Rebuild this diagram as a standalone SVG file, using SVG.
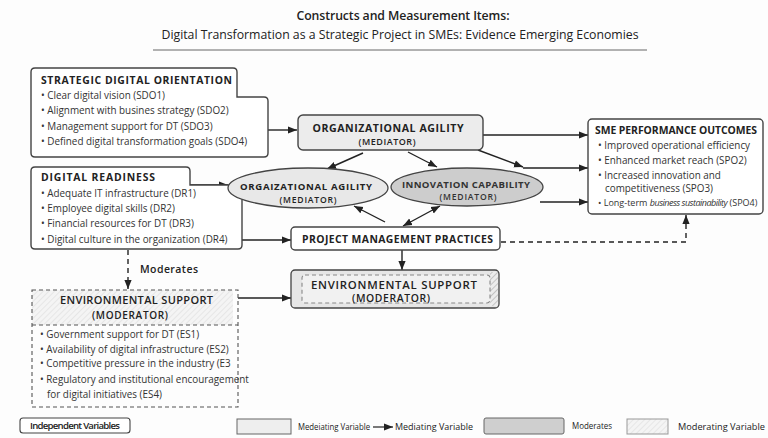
<svg xmlns="http://www.w3.org/2000/svg" width="768" height="438" viewBox="0 0 768 438">
  <defs>
    <marker id="ah" viewBox="0 0 10 10" refX="10" refY="5" markerWidth="9" markerHeight="9" markerUnits="userSpaceOnUse" orient="auto-start-reverse">
      <path d="M0,1 L10,5 L0,9 Z" fill="#222"/>
    </marker>
    <pattern id="hatch" width="4" height="4" patternUnits="userSpaceOnUse" patternTransform="rotate(45)">
      <rect width="4" height="4" fill="#ececec"/>
      <line x1="0" y1="0" x2="0" y2="4" stroke="#9a9a9a" stroke-width="1"/>
    </pattern>
    <pattern id="hatchLight" width="4" height="4" patternUnits="userSpaceOnUse" patternTransform="rotate(45)">
      <rect width="4" height="4" fill="#f4f4f4"/>
      <line x1="0" y1="0" x2="0" y2="4" stroke="#d8d8d8" stroke-width="1"/>
    </pattern>
  </defs>
  <style>
    text { font-family: "Open Sans", "Noto Sans", "Liberation Sans", sans-serif; fill: #222; }
    .title { font-size: 12.3px; font-weight: 600; }
    .sub { font-size: 12.3px; }
    .hd { font-size: 10.4px; font-weight: 700; }
    .it { font-size: 9.9px; fill: #333; }
    .nm { font-size: 10.6px; font-weight: 700; }
    .md { font-size: 9px; font-weight: 600; }
    .lg { font-size: 9.6px; }
    .box { fill: #fff; stroke: #444; stroke-width: 1.4; }
    .gray { fill: #ececec; stroke: #444; stroke-width: 1.4; }
    .dash { fill: none; stroke: #555; stroke-width: 1.1; stroke-dasharray: 4 3; }
    .wire { fill: none; stroke: #222; stroke-width: 1.4; }
    .wired { fill: none; stroke: #222; stroke-width: 1.4; stroke-dasharray: 5 4; }
  </style>

  <rect width="768" height="438" fill="#fdfdfd"/>

  <!-- heading -->
  <g id="heading">
    <text class="title" x="403" y="19.5" text-anchor="middle" textLength="213">Constructs and Measurement Items:</text>
    <text class="sub" x="400" y="38.5" text-anchor="middle" textLength="477">Digital Transformation as a Strategic Project in SMEs: Evidence  Emerging Economies</text>
    <line x1="153" y1="50" x2="647" y2="50" stroke="#666" stroke-width="1"/>
  </g>

  <!-- connectors -->
  <g id="connectors">
    <path class="wire" d="M268,130 H297" marker-end="url(#ah)"/>
    <path class="wire" d="M190,185 H228" marker-end="url(#ah)"/>
    <path class="wire" d="M242,240 H291" marker-end="url(#ah)"/>
    <path class="wired" d="M128,250 V289" marker-end="url(#ah)"/>
    <path class="wire" d="M238,298 H291" marker-end="url(#ah)"/>
    <path class="wire" d="M363,153 L327,169" marker-end="url(#ah)"/>
    <path class="wire" d="M408,152 L437,167" marker-end="url(#ah)"/>
    <path class="wire" d="M483,135 H588" marker-end="url(#ah)"/>
    <path class="wire" d="M478,150 L523,167" marker-end="url(#ah)"/>
    <path class="wire" d="M523,168 H588" marker-end="url(#ah)"/>
    <path class="wire" d="M540,202 H588" marker-end="url(#ah)"/>
    <path class="wire" d="M385,222 L354,206" marker-end="url(#ah)"/>
    <path class="wire" d="M403,226 L440,206" marker-start="url(#ah)" marker-end="url(#ah)"/>
    <path class="wire" d="M402,250 V270" marker-end="url(#ah)"/>
    <path class="wired" d="M501,242 H686 V215" marker-end="url(#ah)"/>
  </g>

  <!-- strategic digital orientation -->
  <g id="sdo">
    <path class="box" d="M35,68 H233 Q237,68 237,72 V97 H264 Q268,97 268,101 V153 Q268,157 264,157 H35 Q31,157 31,153 V72 Q31,68 35,68 Z"/>
    <text class="hd" x="41" y="84" textLength="191">STRATEGIC DIGITAL ORIENTATION</text>
    <text class="it" x="41" y="98.5">•  Clear digital vision  (SDO1)</text>
    <text class="it" x="41" y="114">•  Alignment with busines strategy  (SDO2)</text>
    <text class="it" x="41" y="129.5">•  Management support for DT (SDO3)</text>
    <text class="it" x="41" y="145">•  Defined digital transformation goals (SDO4)</text>
  </g>

  <!-- digital readiness -->
  <g id="dr">
    <path class="box" d="M35,167 H186 Q190,167 190,171 V185 H238 Q242,185 242,189 V245 Q242,249 238,249 H35 Q31,249 31,245 V171 Q31,167 35,167 Z"/>
    <text class="hd" x="41" y="181" textLength="114">DIGITAL READINESS</text>
    <text class="it" x="41" y="196.5">•  Adequate IT infrastructure (DR1)</text>
    <text class="it" x="41" y="212">•  Employee digital skills (DR2)</text>
    <text class="it" x="41" y="227">•  Financial resources for DT (DR3)</text>
    <text class="it" x="41" y="242.5">•  Digital culture in the organization (DR4)</text>
  </g>

  <!-- organizational agility (box) -->
  <g id="oa-box">
    <rect class="gray" x="298" y="115" width="185" height="35" rx="5"/>
    <text class="nm" x="388" y="131.5" text-anchor="middle" textLength="151">ORGANIZATIONAL AGILITY</text>
    <text class="md" x="387" y="145" text-anchor="middle" textLength="57">(MEDIATOR)</text>
  </g>

  <!-- organizational agility (ellipse) -->
  <g id="oa-ellipse">
    <ellipse cx="308" cy="188" rx="80" ry="20" fill="#e8e8e8" stroke="#444" stroke-width="1.3"/>
    <text class="md" x="306" y="189.5" text-anchor="middle" textLength="132" style="font-weight:700;font-size:9.6px">ORGAIZATIONAL AGILITY</text>
    <text class="md" x="308" y="202.5" text-anchor="middle" textLength="57" style="font-size:8.6px">(MEDIATOR)</text>
  </g>

  <!-- innovation capability -->
  <g id="ic">
    <ellipse cx="467" cy="187" rx="76" ry="19" fill="#cdcdcd" stroke="#444" stroke-width="1.3"/>
    <text class="md" x="466" y="187.5" text-anchor="middle" textLength="128" style="font-weight:700;font-size:9.6px;fill:#333">INNOVATION CAPABILITY</text>
    <text class="md" x="468" y="199.5" text-anchor="middle" textLength="57" style="font-size:8.6px;fill:#333">(MEDIATOR)</text>
  </g>

  <!-- project management practices -->
  <g id="pmp">
    <rect class="box" x="291" y="227" width="209" height="23" rx="4"/>
    <text class="hd" x="397.5" y="242.5" text-anchor="middle" textLength="191">PROJECT MANAGEMENT PRACTICES</text>
  </g>

  <!-- sme performance outcomes -->
  <g id="spo">
    <rect class="box" x="588" y="119" width="175" height="95" rx="4"/>
    <text class="hd" x="595" y="134" textLength="162">SME PERFORMANCE OUTCOMES</text>
    <text class="it" x="598" y="148.5">•  Improved operational efficiency</text>
    <text class="it" x="598" y="163.5">•  Enhanced market reach (SPO2)</text>
    <text class="it" x="598" y="178.5">•  Increased innovation and</text>
    <text class="it" x="605" y="191.5">competitiveness (SPO3)</text>
    <text class="it" x="598" y="205.5" style="font-size:9px">•  Long-term <tspan font-style="italic" letter-spacing="-0.5">business sustainability</tspan> (SPO4)</text>
  </g>

  <!-- environmental support (moderator, left) -->
  <g id="es-left">
    <rect x="32" y="290" width="201" height="35" fill="url(#hatchLight)"/>
    <rect class="dash" x="32" y="290" width="206" height="117"/>
    <line class="dash" x1="32" y1="325" x2="238" y2="325"/>
    <text x="136.5" y="304" text-anchor="middle" textLength="153" style="font-size:11px;font-weight:600">ENVIRONMENTAL SUPPORT</text>
    <text x="130" y="318.5" text-anchor="middle" textLength="76" style="font-size:10px;font-weight:600">(MODERATOR)</text>
    <text class="it" x="40" y="338">•  Government support for DT  (ES1)</text>
    <text class="it" x="40" y="352.5">•  Availability of digital infrastructure (ES2)</text>
    <text class="it" x="40" y="367">•  Competitive pressure in the industry (E3</text>
    <text class="it" x="40" y="382.5">•  Regulatory and institutional encouragement</text>
    <text class="it" x="47" y="397.5">for digital initiatives (ES4)</text>
  </g>

  <!-- moderates label -->
  <g id="moderates-label">
    <text x="140" y="273" textLength="58" style="font-size:10.5px;font-weight:600">Moderates</text>
  </g>

  <!-- environmental support (moderator, right) -->
  <g id="es-right">
    <rect x="291" y="270" width="208" height="38" rx="4" fill="#e6e6e6" stroke="#444" stroke-width="1.3"/>
    <rect x="490" y="272" width="8" height="34" fill="url(#hatch)"/>
    <rect x="302" y="275" width="188" height="28" rx="3" fill="#f1f1f1" stroke="#888" stroke-width="1.1" stroke-dasharray="4 3"/>
    <text x="394" y="289" text-anchor="middle" textLength="166" style="font-size:11.4px;font-weight:600">ENVIRONMENTAL SUPPORT</text>
    <text x="391" y="301.5" text-anchor="middle" textLength="78" style="font-size:10.4px;font-weight:600">(MODERATOR)</text>
  </g>

  <!-- legend -->
  <g id="legend">
    <rect x="20" y="418" width="110" height="15" rx="3" fill="#fff" stroke="#444" stroke-width="1.1"/>
    <text class="lg" x="75" y="429" text-anchor="middle" textLength="90" style="font-weight:600">Independent Variables</text>
    <rect x="237" y="419" width="54" height="15" fill="#eeeeee" stroke="#666" stroke-width="1"/>
    <text class="lg" x="298" y="430" textLength="72" lengthAdjust="spacingAndGlyphs">Medeiating Variable</text>
    <path class="wire" d="M373,427 H393" marker-end="url(#ah)" style="stroke-width:1.2"/>
    <text class="lg" x="395" y="430" textLength="78" lengthAdjust="spacingAndGlyphs">Mediating Variable</text>
    <rect x="484" y="418" width="80" height="16" rx="2" fill="#cfcfcf" stroke="#666" stroke-width="1"/>
    <text class="lg" x="572" y="429" textLength="40" lengthAdjust="spacingAndGlyphs">Moderates</text>
    <rect x="627" y="419" width="41" height="15" fill="url(#hatchLight)" stroke="#999" stroke-width="1"/>
    <text class="lg" x="678" y="430" textLength="87" lengthAdjust="spacingAndGlyphs">Moderating Variable</text>
  </g>
</svg>
